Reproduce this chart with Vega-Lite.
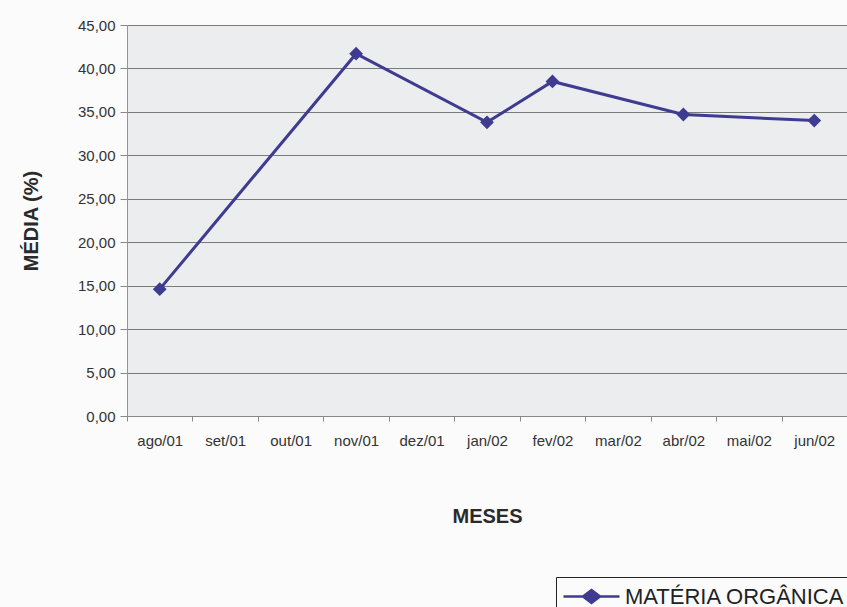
{
  "$schema": "https://vega.github.io/schema/vega-lite/v6.json",
  "autosize": "none",
  "width": 720,
  "height": 391,
  "padding": {"left": 127, "top": 25, "right": 0, "bottom": 191},
  "background": "#fbfbfb",
  "config": {
    "font": "Liberation Sans",
    "view": {"fill": "#ecedef", "stroke": null}
  },
  "data": {
    "values": [
      {"mes": "ago/01", "valor": 14.6, "serie": "MATÉRIA ORGÂNICA"},
      {"mes": "nov/01", "valor": 41.7, "serie": "MATÉRIA ORGÂNICA"},
      {"mes": "jan/02", "valor": 33.8, "serie": "MATÉRIA ORGÂNICA"},
      {"mes": "fev/02", "valor": 38.5, "serie": "MATÉRIA ORGÂNICA"},
      {"mes": "abr/02", "valor": 34.7, "serie": "MATÉRIA ORGÂNICA"},
      {"mes": "jun/02", "valor": 34.0, "serie": "MATÉRIA ORGÂNICA"}
    ]
  },
  "encoding": {
    "x": {
      "field": "mes",
      "type": "ordinal",
      "sort": null,
      "scale": {
        "type": "band",
        "domain": ["ago/01", "set/01", "out/01", "nov/01", "dez/01", "jan/02", "fev/02", "mar/02", "abr/02", "mai/02", "jun/02"],
        "paddingInner": 0,
        "paddingOuter": 0
      },
      "axis": {
        "title": "MESES",
        "titleFont": "Liberation Sans",
        "titleFontSize": 20,
        "titleFontWeight": "bold",
        "titleColor": "#2a2a2a",
        "titlePadding": 58,
        "labelAngle": 0,
        "labelFontSize": 15,
        "labelColor": "#333",
        "labelPadding": 12,
        "tickBand": "extent",
        "tickColor": "#888",
        "tickSize": 5,
        "domainColor": "#888",
        "grid": false
      }
    },
    "y": {
      "field": "valor",
      "type": "quantitative",
      "scale": {"domain": [0, 45], "nice": false},
      "axis": {
        "title": "MÉDIA (%)",
        "titleFontSize": 20,
        "titleFontWeight": "bold",
        "titleColor": "#2a2a2a",
        "titlePadding": 36,
        "values": [0, 5, 10, 15, 20, 25, 30, 35, 40, 45],
        "labelExpr": "replace(format(datum.value, '.2f'), '.', ',')",
        "labelFontSize": 15,
        "labelColor": "#333",
        "labelPadding": 5,
        "tickColor": "#888",
        "tickSize": 7,
        "domainColor": "#a08aa8",
        "grid": true,
        "gridColor": "#7a7a7a",
        "gridWidth": 1
      }
    },
    "color": {
      "field": "serie",
      "type": "nominal",
      "scale": {"range": ["#3e3b91"]},
      "legend": {
        "title": null,
        "orient": "none",
        "legendX": 429,
        "legendY": 552,
        "strokeColor": "#222",
        "fillColor": "#fbfbfb",
        "padding": 8,
        "labelFontSize": 22,
        "labelColor": "#222",
        "labelFont": "Liberation Sans",
        "labelLimit": 400,
        "symbolType": "M-2.8,0H2.8M0,-0.65L0.85,0L0,0.65L-0.85,0Z",
        "symbolSize": 400,
        "symbolOffset": 16,
        "symbolStrokeWidth": 2.5,
        "symbolFillColor": "#3e3b91",
        "symbolStrokeColor": "#3e3b91",
        "labelOffset": 22
      }
    }
  },
  "layer": [
    {
      "mark": {"type": "line", "strokeWidth": 3}
    },
    {
      "mark": {"type": "point", "shape": "diamond", "filled": true, "size": 190, "opacity": 1}
    }
  ]
}
